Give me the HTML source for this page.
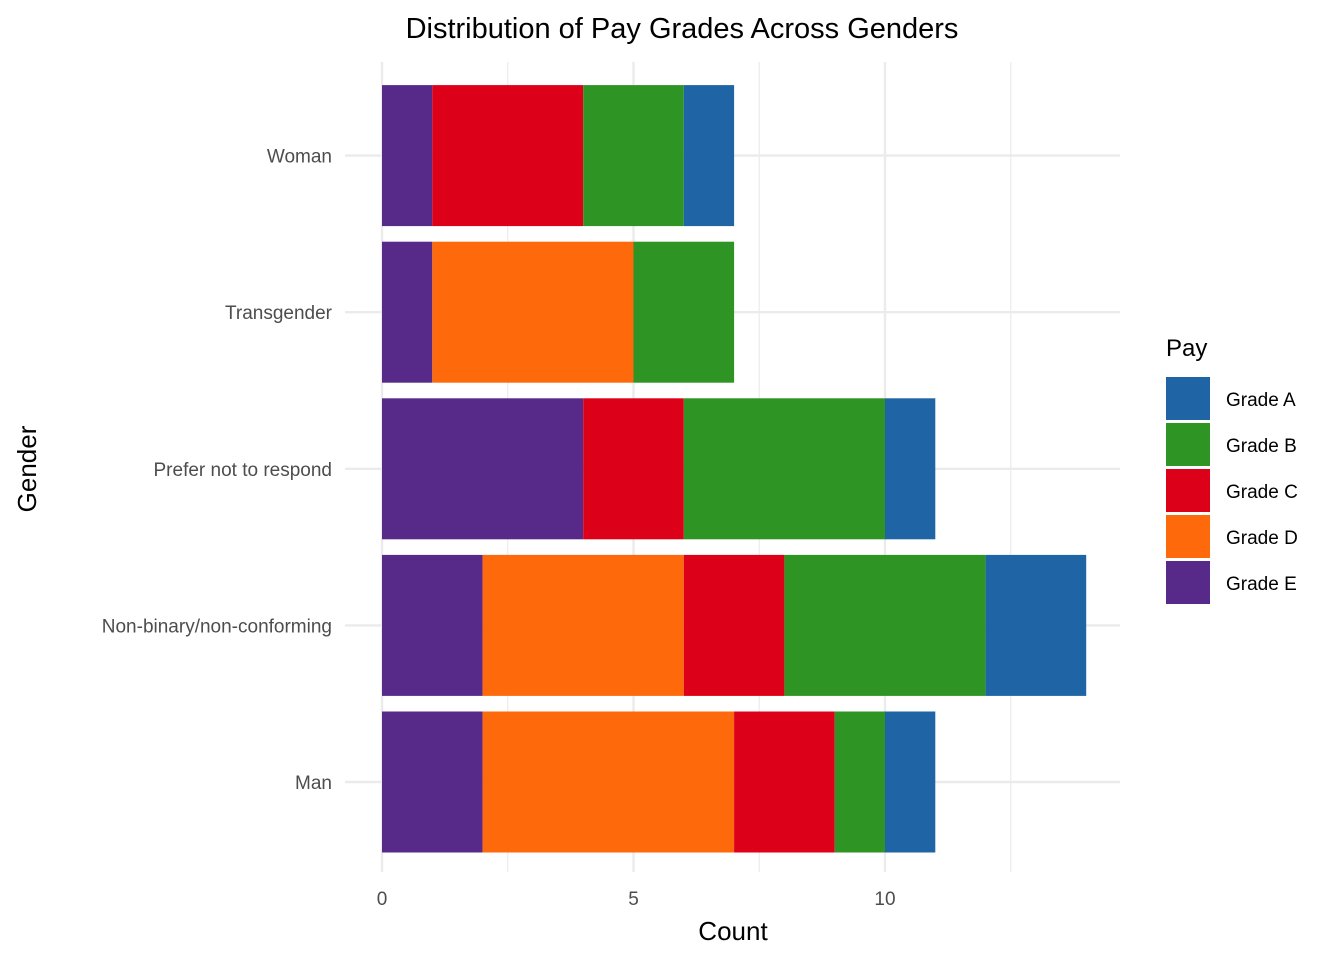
<!DOCTYPE html>
<html><head><meta charset="utf-8"><style>
body{margin:0;background:#fff;}
svg{display:block;font-family:"Liberation Sans",Arial,sans-serif;}
</style></head><body>
<svg id="chart" width="1344" height="960" viewBox="0 0 1344 960">
<rect width="1344" height="960" fill="#fff"/>
<g id="grid"></g>
<g id="bars"></g>
<g id="axes"></g>
<text x="682" y="38" font-size="29" text-anchor="middle" fill="#000">Distribution of Pay Grades Across Genders</text>
<text x="733" y="940" font-size="26" text-anchor="middle" fill="#000">Count</text>
<text transform="translate(36,469) rotate(-90)" font-size="26" text-anchor="middle" fill="#000">Gender</text>
<g id="legend"></g>
</svg>
<script>
const categories = ["Man","Non-binary/non-conforming","Prefer not to respond","Transgender","Woman"];
const grades = ["Grade E","Grade D","Grade C","Grade B","Grade A"];
const gradeE = [2,2,4,1,1];
const gradeD = [5,4,0,4,0];
const gradeC = [2,2,2,0,3];
const gradeB = [1,4,4,2,2];
const gradeA = [1,2,1,0,1];
const majorTicks = [0,5,10];
const minorTicks = [2.5,7.5,12.5];
const colors = {"Grade A":"#1f65a6","Grade B":"#2e9423","Grade C":"#dc0019","Grade D":"#fd690b","Grade E":"#572a8a"};
const series = [gradeE,gradeD,gradeC,gradeB,gradeA];
const NS="http://www.w3.org/2000/svg";
const x = v => 382 + v*50.3;
const y = i => 782 - i*156.6;
const barH = 141;
const px0=345, px1=1120, py0=62, py1=872;
function mk(tag,attrs,parent){const e=document.createElementNS(NS,tag);for(const k in attrs)e.setAttribute(k,attrs[k]);parent.appendChild(e);return e;}
const grid=document.getElementById('grid'), bars=document.getElementById('bars'), axes=document.getElementById('axes'), legend=document.getElementById('legend');
minorTicks.forEach(t=>{const l=mk('line',{x1:x(t),x2:x(t),y1:py0,y2:py1,stroke:'#ebebeb','stroke-width':1.2},grid);

});
majorTicks.forEach(t=>{const l=mk('line',{x1:x(t),x2:x(t),y1:py0,y2:py1,stroke:'#ebebeb','stroke-width':2.4},grid);


const tx=mk('text',{x:x(t),y:905,'font-size':19,'text-anchor':'middle',fill:'#4d4d4d'},axes);tx.textContent=t;

});
categories.forEach((c,i)=>{const l=mk('line',{x1:px0,x2:px1,y1:y(i),y2:y(i),stroke:'#ebebeb','stroke-width':2.4},grid);


const tx=mk('text',{x:332,y:y(i)+7,'font-size':19,'text-anchor':'end',fill:'#4d4d4d'},axes);tx.textContent=c;


let acc=0;
series.forEach((s,j)=>{const v=s[i];if(v>0){const r=mk('rect',{x:x(acc),y:y(i)-barH/2,width:x(acc+v)-x(acc),height:barH,fill:colors[grades[j]]},bars);

}acc+=v;});});
const lt=mk('text',{x:1166,y:356,'font-size':24,fill:'#000'},legend);lt.textContent='Pay';


["Grade A","Grade B","Grade C","Grade D","Grade E"].forEach((g,k)=>{const yy=377+k*46;
const r=mk('rect',{x:1166,y:yy,width:44,height:43,fill:colors[g]},legend);


const t=mk('text',{x:1226,y:yy+29,'font-size':19,fill:'#000'},legend);t.textContent=g;

});
</script>
</body></html>
